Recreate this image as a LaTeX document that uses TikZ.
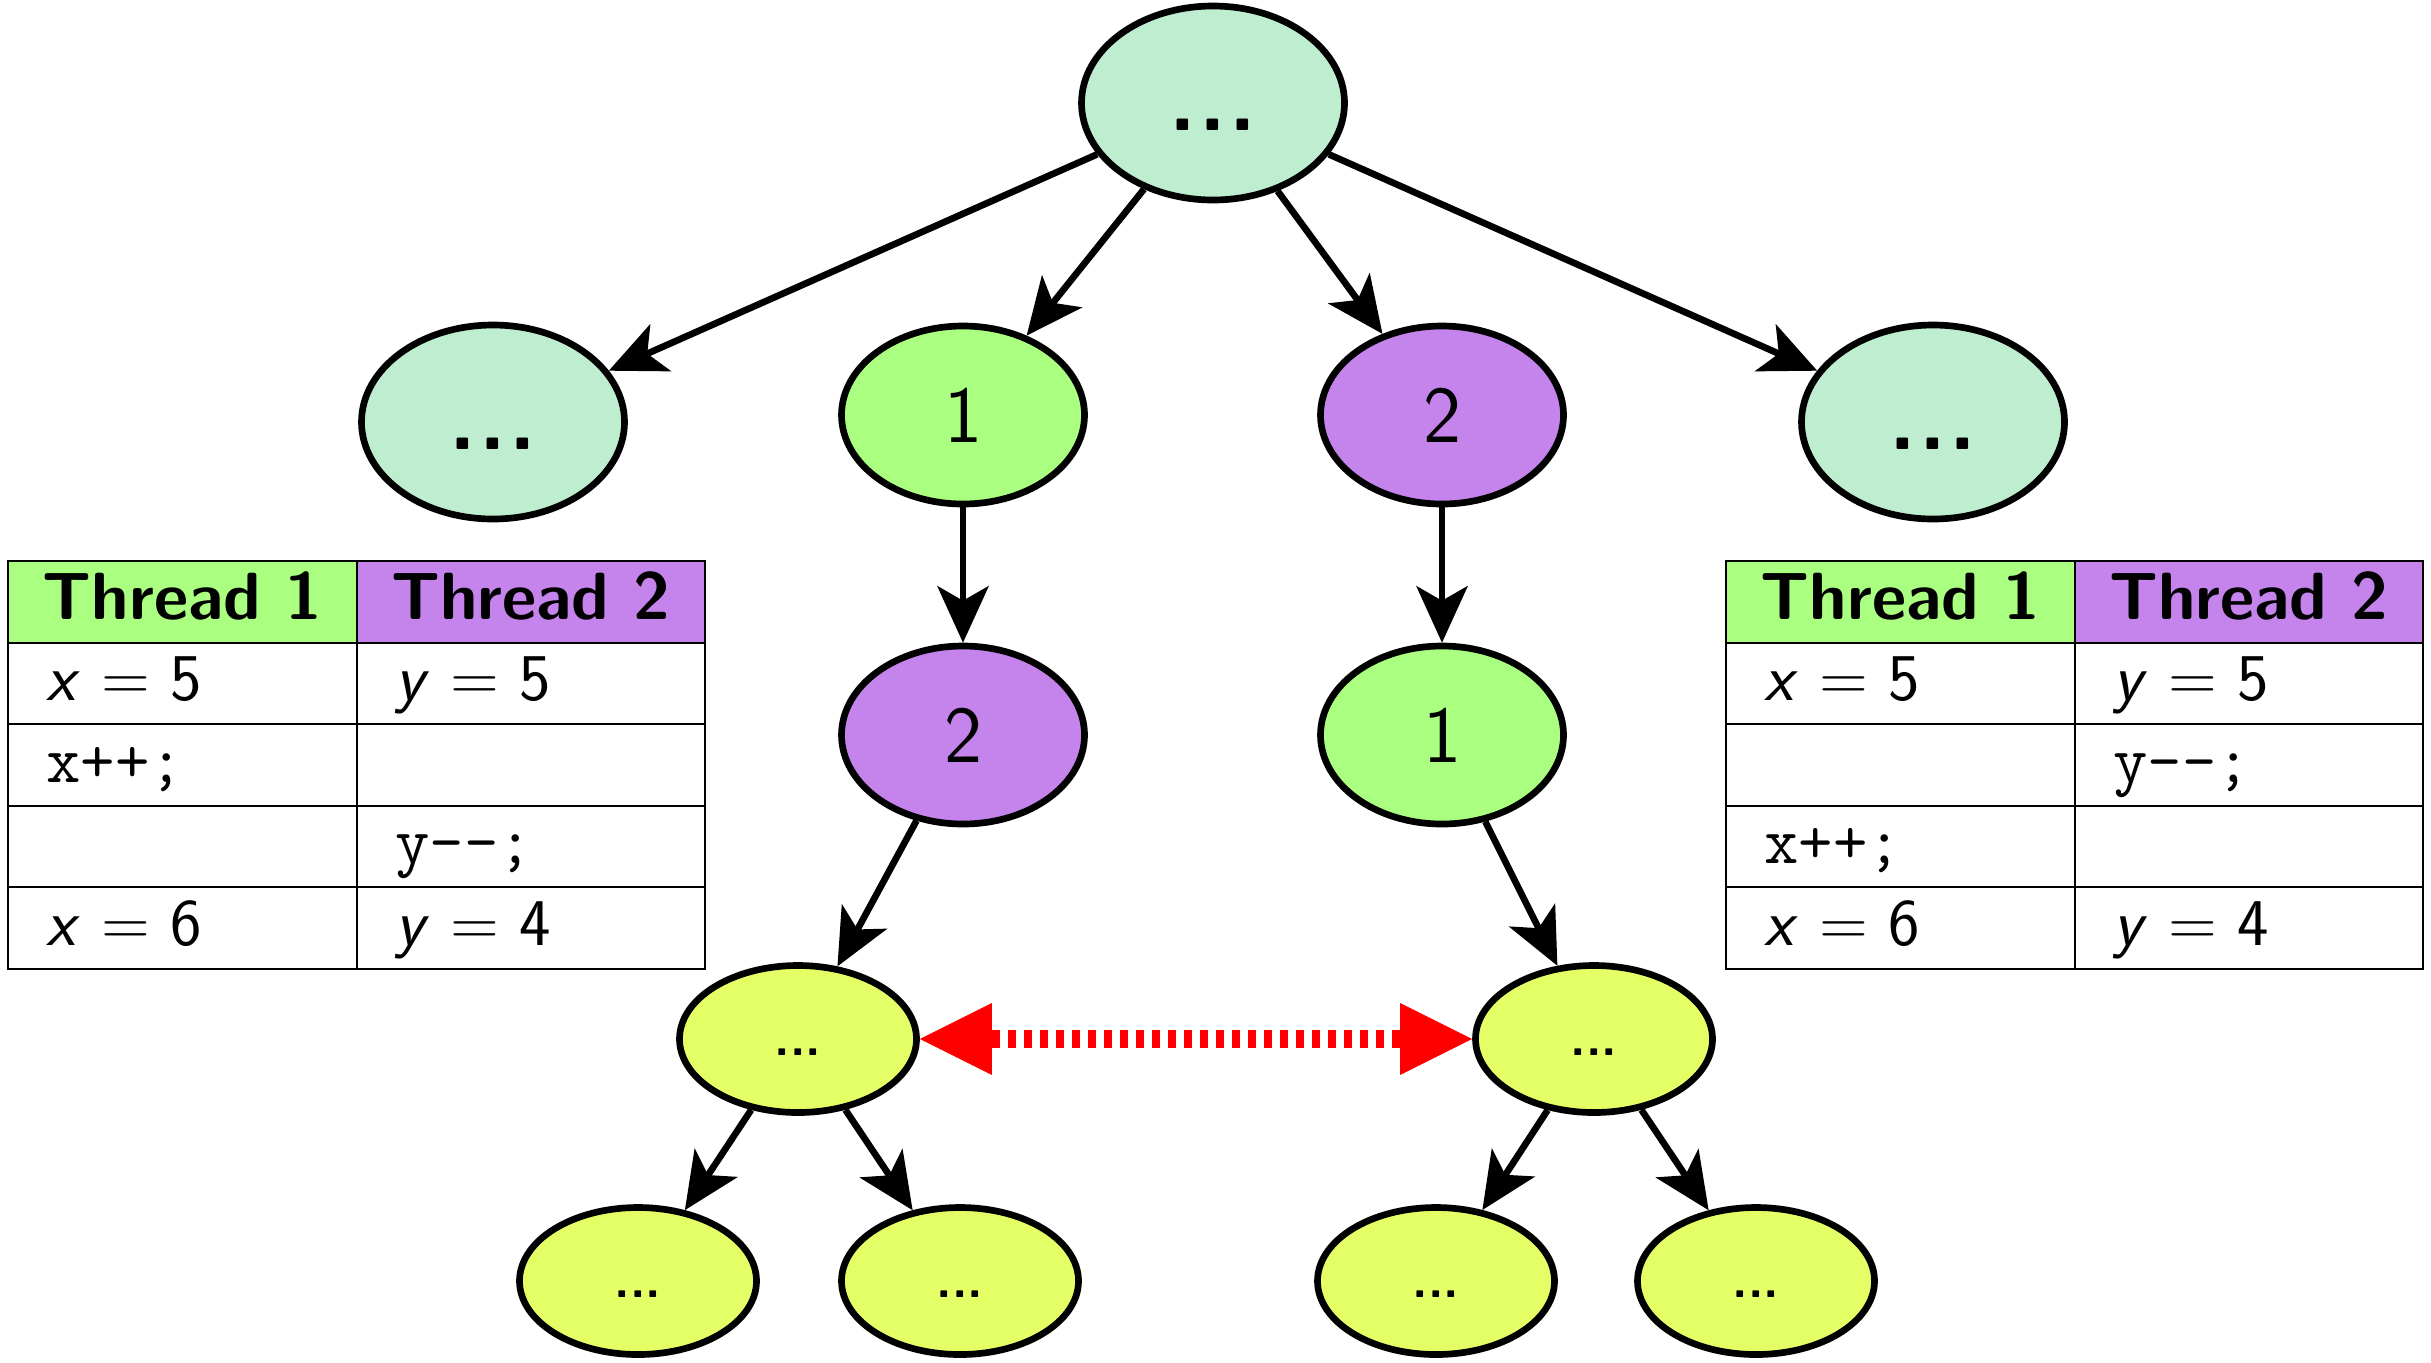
\documentclass[tikz,border=0pt]{standalone}
\usepackage{tikz}
\usetikzlibrary{arrows.meta,shapes.geometric}
\renewcommand{\familydefault}{\sfdefault}

\definecolor{rootcol}{HTML}{BEEDD0}
\definecolor{onecol}{HTML}{AAFF80}
\definecolor{twocol}{HTML}{C583EC}
\definecolor{leafcol}{HTML}{E4FF66}

\newcommand\sv[1]{\textsl{#1}}
\newcommand\threedots{.\kern0.03cm.\kern0.03cm.}

\tikzset{
	blob/.style={ellipse, draw=black, line width=1.9pt, inner sep=0pt},
	wide/.style={blob, fill=rootcol, minimum width=2.63cm, minimum height=1.94cm, font=\Huge\bfseries, text height=0.54cm, text depth=0cm},
	thread/.style={blob, minimum width=2.43cm, minimum height=1.78cm, font=\fontsize{23}{27}\selectfont},
	leaf/.style={blob, fill=leafcol, minimum width=2.37cm, minimum height=1.47cm, font=\Large\bfseries, text height=0.32cm, text depth=0cm},
	go/.style={line width=1.9pt, -{Stealth[length=5.7mm, width=5.2mm, inset=1.5mm, line width=0pt]}},
	race/.style={red, line width=0.18cm, dash pattern=on 0.08cm off 0.08cm, {Triangle[length=0.72cm, width=0.72cm, line width=0pt]}-{Triangle[length=0.72cm, width=0.72cm, line width=0pt]}},
	head/.style={anchor=base, font=\fontsize{19}{23}\selectfont\bfseries},
	cell/.style={anchor=base west, font=\fontsize{19}{23}\selectfont}
}

% table of the two threads: shift, name, middle rows
\newcommand\threadtable[6]{
	\begin{scope}[xshift=#1cm]
		% header
		\fill[onecol] (0,-5.61) rectangle (3.49,-6.43);
		\fill[twocol] (3.49,-5.61) rectangle (6.97,-6.43);
		% grid
		\draw[line width=0.75pt] (0,-5.61) rectangle (6.97,-9.69);
		\foreach \y in {-6.43,-7.24,-8.06,-8.87} {
			\draw[line width=0.75pt] (0,\y) -- (6.97,\y);
		}
		\draw[line width=0.75pt] (3.49,-5.61) -- (3.49,-9.69);
		% texts
		\node[head] (#2h1) at (1.745,-6.19) {Thread 1};
		\node[head] (#2h2) at (5.23,-6.19) {Thread 2};
		\node[cell] (#2a1) at (0.26,-7.005) {\sv{x} = 5};
		\node[cell] (#2a2) at (3.75,-7.005) {\sv{y} = 5};
		\node[cell] (#2b1) at (0.26,-7.82) {#3};
		\node[cell] (#2b2) at (3.75,-7.82) {#4};
		\node[cell] (#2c1) at (0.26,-8.635) {#5};
		\node[cell] (#2c2) at (3.75,-8.635) {#6};
		\node[cell] (#2d1) at (0.26,-9.45) {\sv{x} = 6};
		\node[cell] (#2d2) at (3.75,-9.45) {\sv{y} = 4};
	\end{scope}
}

\begin{document}
\begin{tikzpicture}
	\useasboundingbox (0,0) rectangle (24.31,-13.62);
	
	% tables
	\threadtable{0.08}{lt}{\texttt{x++;}}{}{}{\texttt{y{-}{-};}}
	\threadtable{17.26}{rt}{}{\texttt{y{-}{-};}}{\texttt{x++;}}{}
	
	% root
	\node[wide] (root) at (12.13,-1.03) {\threedots};
	
	% first step
	\node[wide] (left) at (4.93,-4.22) {\threedots};
	\node[thread, fill=onecol] (t1) at (9.63,-4.15) {1};
	\node[thread, fill=twocol] (t2) at (14.42,-4.15) {2};
	\node[wide] (right) at (19.33,-4.22) {\threedots};
	
	% second step
	\node[thread, fill=twocol] (t12) at (9.63,-7.35) {2};
	\node[thread, fill=onecol] (t21) at (14.42,-7.35) {1};
	
	% same state
	\node[leaf] (s12) at (7.98,-10.39) {...};
	\node[leaf] (s21) at (15.94,-10.39) {...};
	
	% below
	\node[leaf] (s12a) at (6.38,-12.81) {...};
	\node[leaf] (s12b) at (9.60,-12.81) {...};
	\node[leaf] (s21a) at (14.36,-12.81) {...};
	\node[leaf] (s21b) at (17.56,-12.81) {...};
	
	% arrows
	\foreach \a/\b in {root/left, root/t1, root/t2, root/right, t1/t12, t2/t21, t12/s12, t21/s21, s12/s12a, s12/s12b, s21/s21a, s21/s21b} {
		\draw[go] (\a) -- (\b);
	}
	
	% equal states
	\draw[race] (s12) -- (s21);
\end{tikzpicture}
\end{document}
